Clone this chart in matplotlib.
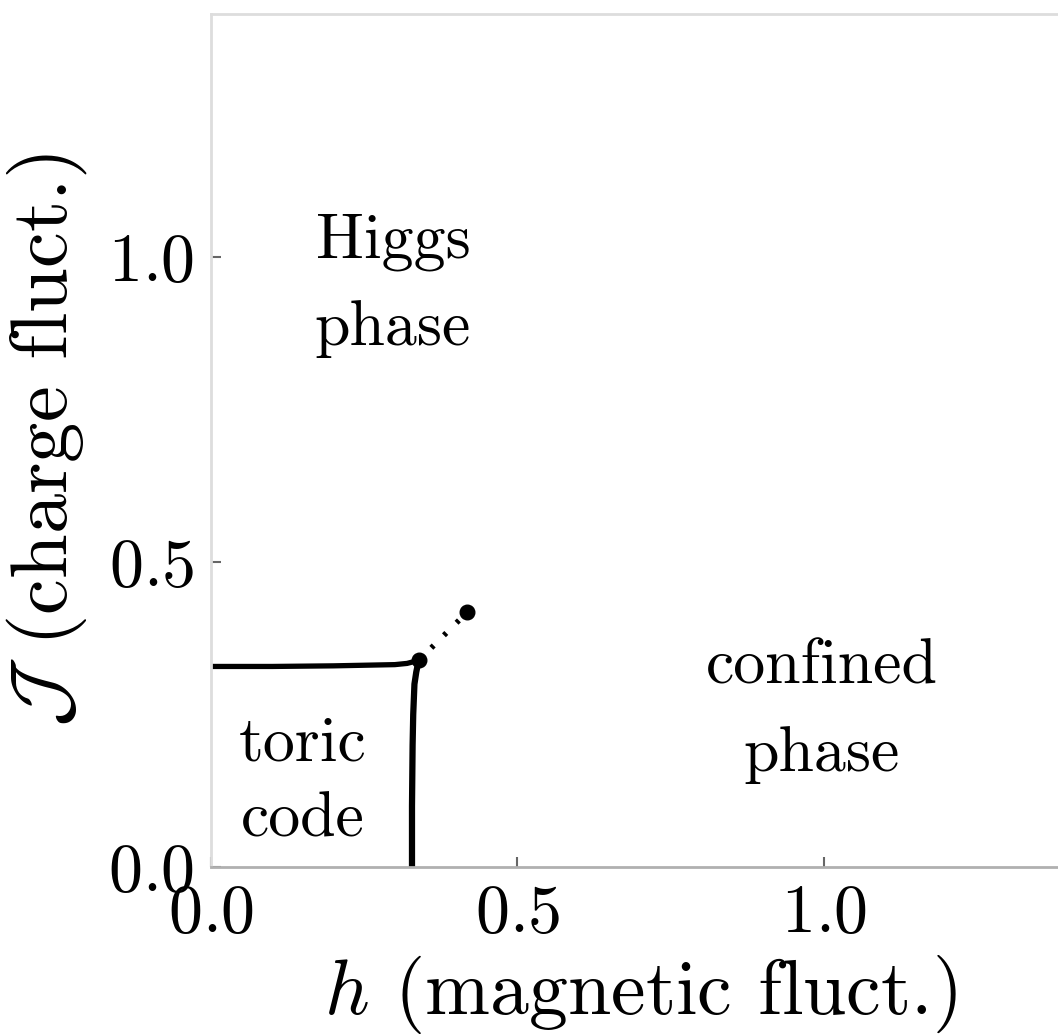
import matplotlib
matplotlib.use("Agg")
import matplotlib.pyplot as plt

plt.rcParams['font.family'] = 'serif'
plt.rcParams['font.serif'] = ['cmr10', 'DejaVu Serif']
plt.rcParams['mathtext.fontset'] = 'cm'
plt.rcParams['axes.unicode_minus'] = False
plt.rcParams['axes.formatter.use_mathtext'] = True

# phase boundaries
h_vert = [0.328, 0.328, 0.329, 0.330, 0.332, 0.335, 0.339]
J_vert = [0.0, 0.10, 0.20, 0.25, 0.30, 0.32, 0.339]
h_horiz = [0.0, 0.10, 0.20, 0.30, 0.32, 0.339]
J_horiz = [0.329, 0.329, 0.330, 0.332, 0.334, 0.339]
h_dot = [0.339, 0.418]
J_dot = [0.339, 0.418]
h_pts = [0.339, 0.418]
J_pts = [0.339, 0.418]

ticks = [0.0, 0.5, 1.0]

fig = plt.figure(figsize=(10.58, 10.35), dpi=100)
ax = fig.add_axes([0.1994, 0.1623, 0.8110, 0.8246])

ax.plot(h_vert, J_vert, color='k', lw=4.5, solid_capstyle='butt')
ax.plot(h_horiz, J_horiz, color='k', lw=3.8, solid_capstyle='butt')
ax.plot(h_dot, J_dot, color='k', lw=4, linestyle=(0, (0.6, 2.6)))
ax.plot(h_pts, J_pts, 'o', color='k', markersize=10.5)

ax.text(0.297, 0.954, "Higgs\nphase", fontsize=46, ha='center', va='center', linespacing=1.65)
ax.text(0.150, 0.139, "toric\ncode", fontsize=46, ha='center', va='center', linespacing=1.4)
ax.text(0.997, 0.256, "confined\nphase", fontsize=46, ha='center', va='center', linespacing=1.65)

ax.set_xlim(0, 1.4)
ax.set_ylim(0, 1.4)
ax.set_xticks(ticks)
ax.set_yticks(ticks)
ax.tick_params(direction='in', length=7, width=1.5, colors='#666666', labelcolor='k',
               labelsize=49, pad=12)

for s in ['left', 'top', 'right']:
    ax.spines[s].set_color('#dddddd')
    ax.spines[s].set_linewidth(2)
ax.spines['bottom'].set_color('#b0b0b0')
ax.spines['bottom'].set_linewidth(2)

ax.set_xlabel(r"$h$ (magnetic fluct.)", fontsize=56, labelpad=6)
ax.set_ylabel(r"$\mathcal{J}$ (charge fluct.)", fontsize=58, labelpad=14)

fig.savefig("out.png", dpi=100)
